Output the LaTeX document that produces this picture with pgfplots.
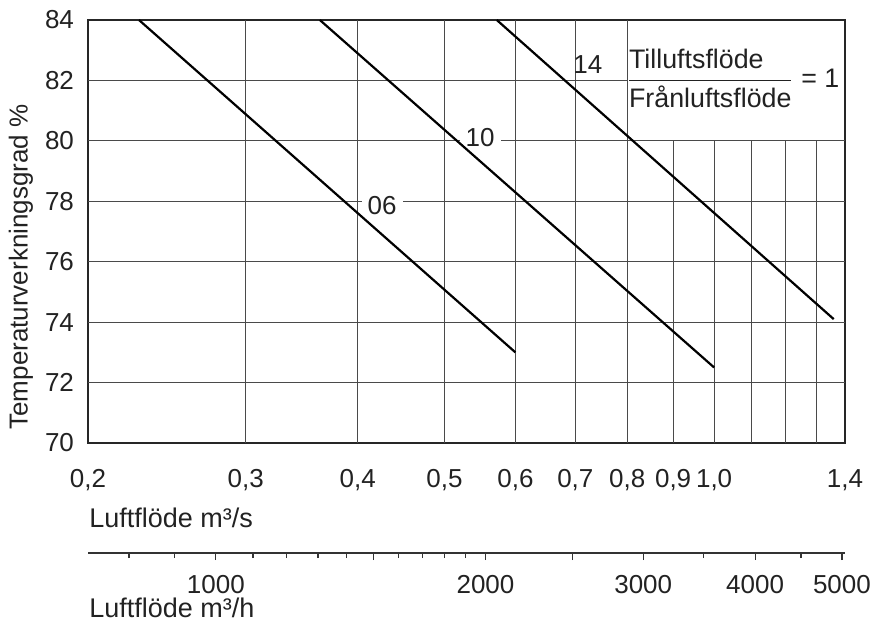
\documentclass[border=0pt]{standalone}
\usepackage{pgfplots}
\pgfplotsset{compat=1.18}
\usepackage{fontspec}
\setmainfont{Liberation Sans}
\definecolor{txt}{HTML}{222222}
\definecolor{gridc}{HTML}{4A4A4A}
\begin{document}
\begin{tikzpicture}[font=\fontsize{13}{15.6}\selectfont, text=txt]
\useasboundingbox (-44pt,-90pt) rectangle (392.5pt,221.5pt);
\begin{axis}[
  at={(0,0)}, anchor=south west,
  scale only axis, width=378.5pt, height=211.5pt,
  xmode=log, xmin=0.2, xmax=1.4, ymin=70, ymax=84,
  xtick={0.2,0.3,0.4,0.5,0.6,0.7,0.8,0.9,1.0,1.4},
  xticklabels={{0,2},{0,3},{0,4},{0,5},{0,6},{0,7},{0,8},{0,9},{1,0},{1,4}},
  ytick={70,72,74,76,78,80,82,84},
  yticklabels={70,72,74,76,78,80,82,84},
  minor xtick={}, xminorticks=false,
  major tick length=0pt, minor tick length=0pt,
  xticklabel style={anchor=base, yshift=-22pt, inner sep=1pt},
  yticklabel style={anchor=east, xshift=-3.5pt},
  axis line style={black!85, line width=0.75pt},
  clip=false,
]
% grid
\draw[gridc, line width=0.5pt] (axis cs:0.2,72) -- (axis cs:1.4,72);
\draw[gridc, line width=0.5pt] (axis cs:0.2,74) -- (axis cs:1.4,74);
\draw[gridc, line width=0.5pt] (axis cs:0.2,76) -- (axis cs:1.4,76);
\draw[gridc, line width=0.5pt] (axis cs:0.2,78) -- (axis cs:1.4,78);
\draw[gridc, line width=0.5pt] (axis cs:0.2,80) -- (axis cs:1.4,80);
\draw[gridc, line width=0.5pt] (axis cs:0.2,82) -- (axis cs:0.8,82);
\draw[gridc, line width=0.5pt] (axis cs:0.3,70) -- (axis cs:0.3,84);
\draw[gridc, line width=0.5pt] (axis cs:0.4,70) -- (axis cs:0.4,84);
\draw[gridc, line width=0.5pt] (axis cs:0.5,70) -- (axis cs:0.5,84);
\draw[gridc, line width=0.5pt] (axis cs:0.6,70) -- (axis cs:0.6,84);
\draw[gridc, line width=0.5pt] (axis cs:0.7,70) -- (axis cs:0.7,84);
\draw[gridc, line width=0.5pt] (axis cs:0.8,70) -- (axis cs:0.8,84);
\draw[gridc, line width=0.5pt] (axis cs:0.9,70) -- (axis cs:0.9,80);
\draw[gridc, line width=0.5pt] (axis cs:1.0,70) -- (axis cs:1.0,80);
\draw[gridc, line width=0.5pt] (axis cs:1.1,70) -- (axis cs:1.1,80);
\draw[gridc, line width=0.5pt] (axis cs:1.2,70) -- (axis cs:1.2,80);
\draw[gridc, line width=0.5pt] (axis cs:1.3,70) -- (axis cs:1.3,80);
% labels on curves
\node[fill=white, inner xsep=3pt, inner ysep=1pt, yshift=-2pt] at (axis cs:0.426,78) {06};
\node[fill=white, inner xsep=3pt, inner ysep=1pt, yshift=1.5pt] at (axis cs:0.548,80) {10};
\node at (axis cs:0.723,82.54) {14};
\node[anchor=base west, inner sep=0pt, xshift=-0.5pt, font=\fontsize{13.4}{16}\selectfont] at (axis cs:0.8,81.75)
  {$\displaystyle\frac{\mbox{\rlap{Tilluftsflöde}\phantom{Frånluftsflöde}}}{\mbox{Frånluftsflöde}}$ = 1};
% curves
\addplot[black, line width=1.1pt] coordinates {(0.228,84) (0.6,73.0)};
\addplot[black, line width=1.1pt] coordinates {(0.363,84) (1.0,72.5)};
\addplot[black, line width=1.1pt] coordinates {(0.572,84) (1.36,74.1)};
\end{axis}
\begin{axis}[
  at={(0,-55pt)}, anchor=south west, scale only axis, width=378.5pt, height=1pt,
  xmode=log, xmin=720, xmax=5040, ymin=0, ymax=1,
  axis x line=bottom, axis y line=none,
  axis line style={-, black!80, line width=0.6pt},
  xtick={1000,1500,2000,2500,3000,4000,5000},
  xticklabels={1000,,2000,,3000,4000,5000},
  minor xtick={800,900,1100,1200,1300,1400,1600,1700,1800,1900,3500,4500},
  tick align=outside, major tick length=3.5pt, minor tick length=2.5pt,
  every tick/.style={black!80, line width=0.6pt},
  xticklabel style={anchor=base, yshift=-16.5pt, inner sep=0.5pt},
]
\addplot[draw=none] coordinates {(1000,0)};
\end{axis}
\node[rotate=90] at (-33.5pt,88pt) {Temperaturverkningsgrad \%};
\node[anchor=base west, inner sep=0pt, font=\fontsize{13.5}{16}\selectfont] at (0.5pt,-42pt) {Luftflöde m³/s};
\node[anchor=base west, inner sep=0pt, font=\fontsize{13.5}{16}\selectfont] at (0.5pt,-87pt) {Luftflöde m³/h};
\end{tikzpicture}
\end{document}
